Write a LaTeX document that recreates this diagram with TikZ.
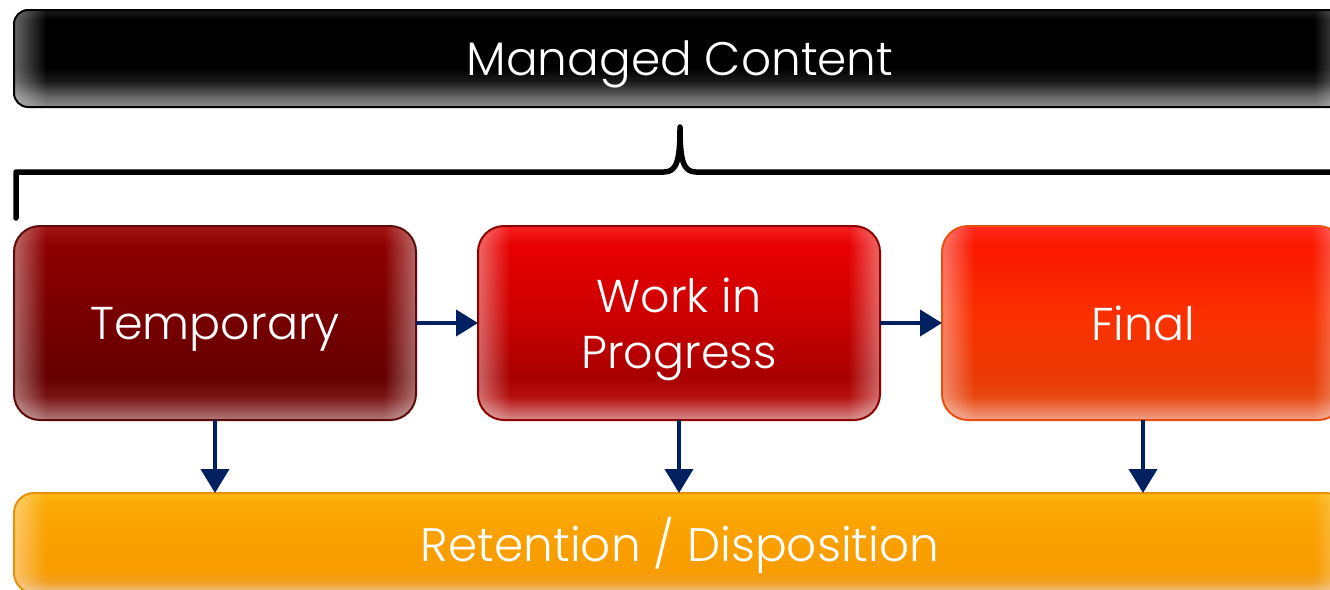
\documentclass[tikz,border=0pt]{standalone}
\usepackage{fontspec}
\setmainfont{Poppins}[UprightFont=* Light]
\usetikzlibrary{arrows.meta,fadings,calc}

% palette
\definecolor{navy}{HTML}{002060}
% black title bar
\definecolor{bkA}{HTML}{8A8A8A}\definecolor{bkB}{HTML}{6A6A6A}\definecolor{bkC}{HTML}{1C1C1C}
\definecolor{bkD}{HTML}{000000}\definecolor{bkE}{HTML}{000000}\definecolor{bkF}{HTML}{1A1A1A}
% dark red
\definecolor{tmA}{HTML}{B07A7A}\definecolor{tmB}{HTML}{7A1515}\definecolor{tmC}{HTML}{650000}
\definecolor{tmD}{HTML}{780000}\definecolor{tmE}{HTML}{8C0000}\definecolor{tmF}{HTML}{A31515}
\definecolor{tmLine}{HTML}{5E0A0A}
% red
\definecolor{wpA}{HTML}{D88A8A}\definecolor{wpB}{HTML}{B51010}\definecolor{wpC}{HTML}{A80000}
\definecolor{wpD}{HTML}{CC0000}\definecolor{wpE}{HTML}{E80000}\definecolor{wpF}{HTML}{F52020}
\definecolor{wpLine}{HTML}{8C0000}
% orange red
\definecolor{fnA}{HTML}{F0A088}\definecolor{fnB}{HTML}{E84810}\definecolor{fnC}{HTML}{EA3A05}
\definecolor{fnD}{HTML}{FA3000}\definecolor{fnE}{HTML}{FA1800}\definecolor{fnF}{HTML}{FF2A20}
\definecolor{fnLine}{HTML}{E85010}
% amber
\definecolor{rtA}{HTML}{ECC080}\definecolor{rtB}{HTML}{F2A020}\definecolor{rtC}{HTML}{F89C00}
\definecolor{rtD}{HTML}{FAA000}\definecolor{rtE}{HTML}{FBAA05}\definecolor{rtF}{HTML}{FBB810}
\definecolor{rtLine}{HTML}{E8900A}

% glossy vertical shading: path box spans 25bp (bottom) .. 75bp (top)
\newcommand\glossshading[7]{%
  \pgfdeclareverticalshading{#1}{100bp}{color(0bp)=(#2); color(25bp)=(#2);
    color(31bp)=(#3); color(36bp)=(#4); color(52bp)=(#5); color(70bp)=(#6);
    color(75bp)=(#7); color(100bp)=(#7)}}
\glossshading{tmShade}{tmA}{tmB}{tmC}{tmD}{tmE}{tmF}
\glossshading{wpShade}{wpA}{wpB}{wpC}{wpD}{wpE}{wpF}
\glossshading{fnShade}{fnA}{fnB}{fnC}{fnD}{fnE}{fnF}
\glossshading{rtShade}{rtA}{rtB}{rtC}{rtD}{rtE}{rtF}
\pgfdeclareverticalshading{bkShade}{100bp}{color(0bp)=(bkA); color(25bp)=(bkA);
  color(30bp)=(bkB); color(38bp)=(bkC); color(45bp)=(bkD); color(70bp)=(bkE);
  color(75bp)=(bkF); color(100bp)=(bkF)}

\tikzfading[name=glowL, left color=transparent!60, right color=transparent!100]
\tikzfading[name=glowR, left color=transparent!100, right color=transparent!60]

\tikzset{
  glossbox/.style={shade, rounded corners=#1, inner sep=0pt, outer sep=0pt,
    text=white, align=center, text depth=0pt},
  glossbox/.default=26pt,
  stagebox/.style={glossbox, minimum width=402pt, minimum height=194pt,
    font=\fontsize{46}{56}\selectfont},
  flow/.style={navy, line width=4pt, -{Triangle[length=24pt,width=28pt]}},
  hflow/.style={navy, line width=4pt, -{Triangle[length=22pt,width=26pt]}},
  brace/.style={line width=5.5pt, line cap=round, line join=round}
}

% soft light edges on both sides, then the outline
\newcommand\sheen[3]{%
  \begin{scope}
    \clip[rounded corners=#2] (#1.north west) rectangle (#1.south east);
    \fill[white, path fading=glowL] (#1.north west) rectangle ([xshift=32pt]#1.south west);
    \fill[white, path fading=glowR] ([xshift=-32pt]#1.north east) rectangle (#1.south east);
  \end{scope}
  \draw[#3, line width=2pt, rounded corners=#2] (#1.north west) rectangle (#1.south east);}

\begin{document}
\begin{tikzpicture}[x=1pt, y=-1pt]
\useasboundingbox (0,0) rectangle (1330,589);
\clip (0,0) rectangle (1330,589);

% title bar
\node[glossbox=14pt, shading=bkShade, minimum width=1332pt, minimum height=97pt,
      font=\fontsize{47}{56}\selectfont] (managed) at (680,58.5) {Managed Content};
\sheen{managed}{14pt}{black}

% brace under the title
\draw[brace] (16,218) -- (16,172) -- (664,172)
  .. controls (677,172) and (680,160) .. (680,127)
  .. controls (680,160) and (683,172) .. (696,172) -- (1344,172) -- (1344,218);

% stages
\node[stagebox, shading=tmShade] (temp) at (215,323) {Temporary};
\sheen{temp}{26pt}{tmLine}
\node[stagebox, shading=wpShade] (wip) at (679,323) {Work in\\Progress};
\sheen{wip}{26pt}{wpLine}
\node[stagebox, shading=fnShade] (final) at (1143,323) {Final};
\sheen{final}{26pt}{fnLine}

% retention bar
\node[glossbox=20pt, shading=rtShade, minimum width=1332pt, minimum height=100pt,
      font=\fontsize{47}{56}\selectfont, text depth=8pt] (ret) at (680,543) {Retention / Disposition};
\sheen{ret}{20pt}{rtLine}

% flow between stages
\draw[hflow] (temp.east) -- (wip.west);
\draw[hflow] (wip.east) -- (final.west);
\draw[flow] (temp.south) -- (temp.south |- ret.north);
\draw[flow] (wip.south) -- (wip.south |- ret.north);
\draw[flow] (final.south) -- (final.south |- ret.north);
\end{tikzpicture}
\end{document}
